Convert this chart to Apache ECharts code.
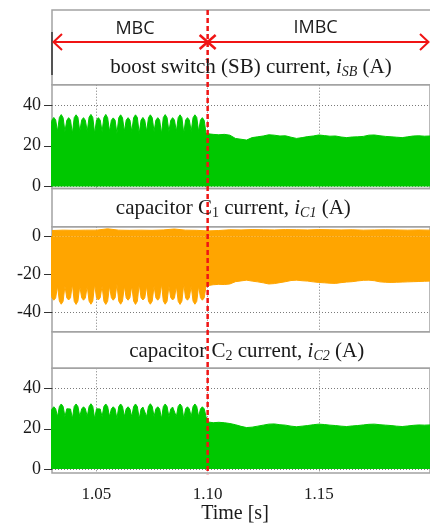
<!DOCTYPE html>
<html>
<head>
<meta charset="utf-8">
<script src="https://cdn.jsdelivr.net/npm/echarts@6/dist/echarts.min.js"></script>
<style>
  html, body { margin: 0; padding: 0; background: #fff; }
  #chart { width: 430px; height: 525px; }
</style>
</head>
<body>
<div id="chart"></div>
<script>
// ---- time axis ----
const timeRange = [1.03, 1.20];
const timeTicks = [1.05, 1.10, 1.15];
const switchTime = 1.10;            // changeover from MBC to IMBC
const modeLabels = ['MBC', 'IMBC'];

// ---- y ticks per panel ----
const sbTicks = [0, 20, 40];
const c1Ticks = [-40, -20, 0];
const c2Ticks = [0, 20, 40];

// ---- envelope sampling ----
// MBC: one sample per quarter of the low-frequency ripple period (notch, rise, crest, fall)
const mbcStart = 1.02914;
const mbcStep = 0.000835;
// IMBC: one sample every 2.5 ms
const imbcStart = 1.100;
const imbcStep = 0.0025;
// upper edge of the capacitor C1 current, every 5 ms
const c1UpperStart = 1.030;
const c1UpperStep = 0.005;

// boost switch current envelope, MBC (A)
const sbMbc = [
  27, 32.6, 33.9, 32.7,
  27, 33.9, 35.3, 33.8,
  27, 32.5, 33.8, 32.6,
  26, 33.8, 35.2, 33.9,
  27, 32.6, 33.8, 32.5,
  27, 34.0, 35.4, 33.9,
  26, 32.6, 33.8, 32.6,
  27, 33.9, 35.4, 33.8,
  27, 32.5, 33.7, 32.6,
  26, 33.8, 35.2, 33.8,
  27, 32.6, 33.8, 32.6,
  27, 33.8, 35.2, 33.9,
  26, 32.6, 33.9, 32.5,
  27, 33.8, 35.2, 33.8,
  27, 32.6, 33.8, 32.6,
  26, 33.9, 35.3, 33.8,
  27, 32.5, 33.8, 32.6,
  27, 33.8, 35.2, 33.8,
  26, 32.6, 33.8, 32.6,
  27, 33.8, 35.2, 33.9,
  27, 32.6, 33.8, 32.5,
  26
];
// boost switch current envelope, IMBC (A)
const sbImbc = [
  26.0, 25.6, 25.4, 25.6, 25.2, 23.6, 23.2, 22.8, 24.0, 24.4,
  24.8, 25.4, 25.2, 24.8, 24.9, 24.2, 23.6, 24.0, 24.5, 24.8,
  25.3, 25.0, 24.7, 24.8, 24.3, 24.0, 24.3, 24.4, 24.6, 25.2,
  25.3, 24.9, 24.6, 24.4, 24.2, 24.0, 24.4, 24.8, 24.9, 24.7,
  24.8
];

// capacitor C1 current, lower edge, MBC (A)
const c1LowMbc = [
  -26, -32.2, -33.5, -32.3,
  -26, -34.0, -35.6, -34.1,
  -26, -32.3, -33.4, -32.2,
  -25, -34.1, -35.7, -34.0,
  -26, -32.2, -33.5, -32.3,
  -26, -34.0, -35.6, -34.0,
  -25, -32.3, -33.4, -32.2,
  -26, -34.1, -35.7, -34.1,
  -26, -32.2, -33.5, -32.3,
  -25, -34.0, -35.6, -34.0,
  -26, -32.3, -33.5, -32.2,
  -26, -34.0, -35.7, -34.1,
  -25, -32.2, -33.4, -32.3,
  -26, -34.1, -35.6, -34.0,
  -26, -32.3, -33.5, -32.2,
  -25, -34.0, -35.6, -34.1,
  -26, -32.2, -33.4, -32.3,
  -26, -34.1, -35.7, -34.0,
  -25, -32.3, -33.5, -32.2,
  -26, -34.0, -35.6, -34.1,
  -26, -32.2, -33.5, -32.3,
  -26
];
// capacitor C1 current, lower edge, IMBC (A)
const c1LowImbc = [
  -25.8, -25.4, -25.2, -25.3, -25.0, -23.8, -23.4, -23.0, -23.5, -23.9,
  -24.4, -25.0, -24.8, -24.3, -23.8, -23.2, -23.0, -23.3, -23.5, -23.9,
  -24.2, -24.4, -24.6, -24.7, -24.3, -24.0, -23.8, -23.4, -23.1, -23.0,
  -23.3, -23.9, -24.1, -24.2, -24.1, -24.0, -23.9, -23.8, -23.7, -23.6,
  -23.5
];
// capacitor C1 current, upper edge, whole window (A)
const c1Upper = [
  3.0, 3.2, 3.1, 3.2, 3.2, 3.9, 3.2, 3.1, 3.2, 3.1,
  3.3, 3.8, 3.2, 3.1, 2.8, 3.0, 3.4, 3.3, 3.5, 3.4,
  3.3, 3.5, 3.4, 3.3, 3.5, 3.4, 3.3, 3.4, 3.2, 3.3,
  3.4, 3.3, 3.2, 3.3, 3.2
];

// capacitor C2 current envelope, MBC (A)
const c2Mbc = [
  26, 29.8, 30.9, 29.9,
  26, 31.0, 32.3, 31.1,
  26, 29.9, 30.8, 29.8,
  25, 31.1, 32.3, 31.0,
  26, 29.8, 30.9, 29.9,
  26, 31.0, 32.4, 31.1,
  25, 29.9, 30.8, 29.8,
  26, 31.1, 32.3, 31.0,
  26, 29.8, 30.9, 29.9,
  25, 31.0, 32.3, 31.1,
  26, 29.9, 30.9, 29.8,
  26, 31.0, 32.3, 31.0,
  25, 29.8, 30.8, 29.9,
  26, 31.1, 32.4, 31.1,
  26, 29.9, 30.9, 29.8,
  25, 31.0, 32.3, 31.0,
  26, 29.8, 30.8, 29.9,
  26, 31.1, 32.3, 31.1,
  25, 29.9, 30.9, 29.8,
  26, 31.0, 32.3, 31.0,
  26, 29.8, 30.9, 29.9,
  26
];
// capacitor C2 current envelope, IMBC (A)
const c2Imbc = [
  23.4, 23.0, 23.2, 23.0, 22.6, 22.0, 21.2, 20.6, 20.8, 21.3,
  21.8, 22.3, 22.4, 22.0, 21.8, 21.3, 21.0, 21.3, 21.6, 22.0,
  22.3, 22.1, 21.8, 21.6, 21.3, 21.1, 21.4, 21.6, 21.9, 22.2,
  22.3, 22.0, 21.8, 21.6, 21.3, 21.1, 21.4, 21.7, 21.9, 21.8,
  21.9
];

// ---- styling ----
const GREEN = '#00c800';
const ORANGE = '#ffa500';
const RED = '#f01414';
const FRAME = '#a3a3a3';
const INK = '#1a1a1a';
const SERIF = '"Liberation Serif", "Times New Roman", serif';
const SANS = '"Open Sans", "Liberation Sans", sans-serif';

// panel layout (px)
const PLOT_LEFT = 52;
const PLOT_WIDTH = 380;
const HEADER_TOP = 10;
const panels = [
  { top: 84.7, height: 103.8, min: -1, max: 50, ticks: sbTicks },
  { top: 226.7, height: 105, min: -50, max: 5, ticks: c1Ticks },
  { top: 368.3, height: 105, min: -2, max: 50, ticks: c2Ticks }
];

function samples(start, step, values) {
  return values.map((v, i) => [+(start + i * step).toFixed(6), v]);
}

const sbData = samples(mbcStart, mbcStep, sbMbc).concat(samples(imbcStart, imbcStep, sbImbc));
const c1LowData = samples(mbcStart, mbcStep, c1LowMbc).concat(samples(imbcStart, imbcStep, c1LowImbc));
const c1UpData = samples(c1UpperStart, c1UpperStep, c1Upper);
const c2Data = samples(mbcStart, mbcStep, c2Mbc).concat(samples(imbcStart, imbcStep, c2Imbc));

const dotted = { type: [1, 2], color: '#7a7a7a', width: 1 };

function makeX(i, showLabels) {
  return {
    type: 'value', gridIndex: i, min: timeRange[0], max: timeRange[1],
    axisLine: { show: false },
    axisTick: { show: true, inside: true, length: 3, customValues: timeTicks,
      lineStyle: { color: '#555', width: 1 } },
    axisLabel: { show: showLabels, customValues: timeTicks, margin: 13,
      formatter: v => v.toFixed(2),
      fontFamily: SERIF, fontSize: 17, color: INK },
    splitLine: { show: true, lineStyle: dotted },
    name: showLabels ? 'Time [s]' : '',
    nameLocation: 'middle', nameGap: 30,
    nameTextStyle: { fontFamily: SERIF, fontSize: 20, color: INK, padding: [0, 12, 0, 0] }
  };
}

function makeY(i) {
  const p = panels[i];
  return {
    type: 'value', gridIndex: i, min: p.min, max: p.max,
    axisLine: { show: false },
    axisTick: { show: true, length: 8, customValues: p.ticks,
      lineStyle: { color: '#333', width: 1 } },
    axisLabel: { customValues: p.ticks, margin: 11,
      fontFamily: SERIF, fontSize: 18, color: INK },
    splitLine: { show: true, lineStyle: dotted }
  };
}

function areaSeries(i, data, color) {
  return {
    type: 'line', xAxisIndex: i, yAxisIndex: i, data,
    symbol: 'none', clip: true,
    lineStyle: { color, width: 1 },
    areaStyle: { color, opacity: 1, origin: 0 },
    silent: true
  };
}

const chart = echarts.init(document.getElementById('chart'), null, { renderer: 'canvas' });

chart.setOption({
  animation: false,
  backgroundColor: '#fff',
  grid: panels.map(p => ({
    left: PLOT_LEFT, width: PLOT_WIDTH, top: p.top, height: p.height,
    show: true, borderColor: FRAME, borderWidth: 1.5, backgroundColor: 'transparent'
  })),
  xAxis: [makeX(0, false), makeX(1, false), makeX(2, true)],
  yAxis: [makeY(0), makeY(1), makeY(2)],
  series: [
    areaSeries(0, sbData, GREEN),
    areaSeries(1, c1LowData, ORANGE),
    areaSeries(1, c1UpData, ORANGE),
    areaSeries(2, c2Data, GREEN)
  ]
});

// ---- annotations: header, panel titles, mode arrow, changeover line ----
const xs = chart.convertToPixel({ xAxisIndex: 0 }, switchTime);
const xa = chart.convertToPixel({ xAxisIndex: 0 }, timeRange[0]);
const xb = Math.min(chart.convertToPixel({ xAxisIndex: 0 }, timeRange[1]), 430);
const arrowY = 42;

function title(x, y, parts) {
  return {
    type: 'text', x, y, z: 40,
    style: {
      text: parts, align: 'center', verticalAlign: 'middle', fill: INK,
      rich: {
        n: { fontFamily: SERIF, fontSize: 21, lineHeight: 24, fill: INK, verticalAlign: 'middle' },
        i: { fontFamily: SERIF, fontSize: 21, fontStyle: 'italic', lineHeight: 24, fill: INK, verticalAlign: 'middle' },
        s: { fontFamily: SERIF, fontSize: 14, fontStyle: 'italic', lineHeight: 14, fill: INK, verticalAlign: 'bottom' },
        u: { fontFamily: SERIF, fontSize: 14, lineHeight: 14, fill: INK, verticalAlign: 'bottom' }
      }
    }
  };
}

const frame = { fill: 'none', stroke: FRAME, lineWidth: 1.5 };

chart.setOption({
  graphic: [
    { type: 'rect', z: 5, shape: { x: PLOT_LEFT, y: HEADER_TOP, width: 400, height: panels[0].top - HEADER_TOP }, style: frame },
    { type: 'rect', z: 5, shape: { x: PLOT_LEFT, y: panels[0].top + panels[0].height, width: 400, height: panels[1].top - panels[0].top - panels[0].height }, style: frame },
    { type: 'rect', z: 5, shape: { x: PLOT_LEFT, y: panels[1].top + panels[1].height, width: 400, height: panels[2].top - panels[1].top - panels[1].height }, style: frame },
    { type: 'line', z: 6, shape: { x1: PLOT_LEFT, y1: 32, x2: PLOT_LEFT, y2: 75 }, style: { stroke: '#333', lineWidth: 1.5 } },

    { type: 'text', x: 135, y: 28.5, z: 20, style: { text: modeLabels[0], font: '18px ' + SANS, fill: INK, align: 'center', verticalAlign: 'middle' } },
    { type: 'text', x: 315.5, y: 27.5, z: 20, style: { text: modeLabels[1], font: '18px ' + SANS, fill: INK, align: 'center', verticalAlign: 'middle' } },

    // mode arrow
    { type: 'line', z: 21, shape: { x1: xa + 1, y1: arrowY, x2: xb - 1, y2: arrowY }, style: { stroke: RED, lineWidth: 2 } },
    { type: 'polyline', z: 21, shape: { points: [[xa + 10, arrowY - 8], [xa + 1.5, arrowY], [xa + 10, arrowY + 8]] }, style: { stroke: RED, lineWidth: 2, fill: 'none' } },
    { type: 'polyline', z: 21, shape: { points: [[xb - 10, arrowY - 8], [xb - 1.5, arrowY], [xb - 10, arrowY + 8]] }, style: { stroke: RED, lineWidth: 2, fill: 'none' } },
    { type: 'line', z: 22, shape: { x1: xs - 8, y1: arrowY - 7, x2: xs + 8, y2: arrowY + 7 }, style: { stroke: RED, lineWidth: 2.5 } },
    { type: 'line', z: 22, shape: { x1: xs - 8, y1: arrowY + 7, x2: xs + 8, y2: arrowY - 7 }, style: { stroke: RED, lineWidth: 2.5 } },

    // changeover instant across all panels
    { type: 'line', z: 30, shape: { x1: xs, y1: HEADER_TOP, x2: xs, y2: panels[2].top + panels[2].height + 1 },
      style: { stroke: RED, lineWidth: 2.5, lineDash: [5, 3] } },

    title(251, 67.7, '{n|boost switch (SB) current, }{i|i}{s|SB}{n| (A)}'),
    title(233.3, 208.3, '{n|capacitor C}{u|1}{n| current, }{i|i}{s|C1}{n| (A)}'),
    title(246.7, 351.7, '{n|capacitor C}{u|2}{n| current, }{i|i}{s|C2}{n| (A)}')
  ]
});
</script>
</body>
</html>
